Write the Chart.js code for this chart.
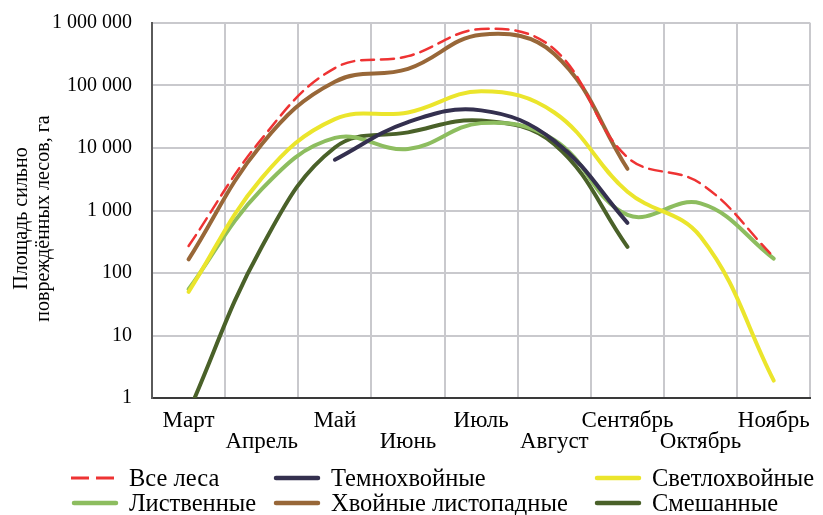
<!DOCTYPE html>
<html lang="ru">
<head>
<meta charset="utf-8">
<script src="https://cdn.jsdelivr.net/npm/chart.js@4.4.1/dist/chart.umd.min.js"></script>
<style>
  body { margin: 0; background: #fff; }
  #wrap { position: relative; width: 823px; height: 515px; }
  #legende { position: absolute; left: 0; top: 466px; width: 823px; height: 48px;
             font-family: 'Liberation Serif', 'Times New Roman', serif; font-size: 24.5px; color: #000; }
  .eintrag { position: absolute; height: 24px; display: flex; align-items: center; white-space: nowrap; }
  .eintrag canvas { margin-right: 10px; }
</style>
</head>
<body>
<div id="wrap">
  <canvas id="chart" width="823" height="515"></canvas>
  <div id="legende"></div>
</div>
<script>
// Monate (Beschriftung in zwei Reihen versetzt)
const monate = ['Март', 'Апрель', 'Май', 'Июнь', 'Июль', 'Август', 'Сентябрь', 'Октябрь', 'Ноябрь'];

// Fläche stark geschädigter Wälder, ha
const vseLesa       = [270, 14000, 190000, 295000, 800000, 380000, 7100, 2700, 180];
const temnohvojnye  = [null, null, 6500, 26000, 40000, 13000, 635, null, null];
const svetlohvojnye = [50, 3300, 29000, 37000, 81000, 37000, 2000, 380, 1.9];
const listvennye    = [55, 2200, 14500, 9600, 25000, 13500, 850, 1300, 170];
const hvojnyeListop = [165, 11500, 115000, 185000, 650000, 320000, 4650, null, null];
const smeshannye    = [0.6, 260, 10200, 17800, 27500, 11500, 262, null, null];

const yTicks = [1, 10, 100, 1000, 10000, 100000, 1000000];
const yTickLabels = ['1', '10', '100', '1 000', '10 000', '100 000', '1 000 000'];
const yTitel = ['Площадь сильно', 'повреждённых лесов, га'];

const serien = [
    { name: 'Все леса', daten: vseLesa, farbe: '#ee3333', dash: [13, 7], breite: 2.5 },
    { name: 'Темнохвойные', daten: temnohvojnye, farbe: '#34304f', dash: [], breite: 4 },
    { name: 'Светлохвойные', daten: svetlohvojnye, farbe: '#ebe52c', dash: [], breite: 4 },
    { name: 'Лиственные', daten: listvennye, farbe: '#8dbd5f', dash: [], breite: 4 },
    { name: 'Хвойные листопадные', daten: hvojnyeListop, farbe: '#986738', dash: [], breite: 4 },
    { name: 'Смешанные', daten: smeshannye, farbe: '#4a6129', dash: [], breite: 4 }
];

const schrift = "'Liberation Serif', 'Times New Roman', serif";

// versetzte Beschriftung: ungerade oben, gerade unten
const xLabels = monate.map((m, i) => i % 2 === 0 ? [m, ''] : ['', m]);

const datasets = serien.map(s => ({
    label: s.name,
    data: s.daten,
    borderColor: s.farbe,
    backgroundColor: s.farbe,
    borderWidth: s.breite,
    borderDash: s.dash,
    borderCapStyle: 'round',
    borderJoinStyle: 'round',
    pointRadius: 0,
    pointHoverRadius: 0,
    tension: 0.4,
    fill: false
}));

// Achsentitel links, zwei gedrehte Zeilen
const achsenTitel = {
    id: 'achsenTitel',
    afterDraw(chart) {
        const ctx = chart.ctx;
        const mitte = (chart.chartArea.top + chart.chartArea.bottom) / 2 + 8;
        ctx.save();
        ctx.fillStyle = '#000';
        ctx.font = '20px ' + schrift;
        ctx.textAlign = 'center';
        ctx.textBaseline = 'middle';
        yTitel.forEach((zeile, i) => {
            ctx.save();
            ctx.translate(22 + i * 22, mitte);
            ctx.rotate(-Math.PI / 2);
            ctx.fillText(zeile, 0, 0);
            ctx.restore();
        });
        ctx.restore();
    }
};

new Chart(document.getElementById('chart'), {
    type: 'line',
    data: { labels: xLabels, datasets: datasets },
    plugins: [achsenTitel],
    options: {
        responsive: false,
        animation: false,
        events: [],
        layout: { padding: { top: 10, right: 5, bottom: 61, left: 0 } },
        plugins: {
            legend: { display: false },
            tooltip: { enabled: false }
        },
        scales: {
            x: {
                offset: true,
                grid: { offset: true, color: '#c9c9cd', lineWidth: 2, drawTicks: false },
                border: { color: '#3a3a3a', width: 2 },
                ticks: {
                    autoSkip: false,
                    maxRotation: 0,
                    padding: 13,
                    color: '#000',
                    font: { family: schrift, size: 23, lineHeight: 0.9 }
                },
                afterFit: scale => { scale.height = 56; }
            },
            y: {
                type: 'logarithmic',
                min: 1,
                max: 1000000,
                grid: { color: '#c9c9cd', lineWidth: 2, drawTicks: true, tickLength: 9, tickColor: 'rgba(0,0,0,0)' },
                border: { color: '#5a5a5a', width: 2 },
                afterBuildTicks: scale => {
                    scale.ticks = yTicks.map(v => ({ value: v }));
                },
                ticks: {
                    padding: 11,
                    color: '#000',
                    font: { family: schrift, size: 20 },
                    callback: (value, index) => yTickLabels[index]
                },
                afterFit: scale => { scale.width = 152; }
            }
        }
    }
});

// Legende wie im Original: drei Spalten, zwei Zeilen
const spaltenX = [71, 273, 594];
const legende = document.getElementById('legende');
serien.forEach((s, i) => {
    let eintrag = document.createElement('div');
    eintrag.className = 'eintrag';
    eintrag.style.left = spaltenX[i % 3] + 'px';
    eintrag.style.top = (Math.floor(i / 3) * 25) + 'px';

    let muster = document.createElement('canvas');
    muster.width = 48;
    muster.height = 10;
    let ctx = muster.getContext('2d');
    ctx.strokeStyle = s.farbe;
    ctx.lineWidth = s.dash.length ? 3 : 4.5;
    ctx.lineCap = s.dash.length ? 'butt' : 'round';
    ctx.setLineDash(s.dash.length ? [18, 7] : []);
    ctx.beginPath();
    ctx.moveTo(s.dash.length ? 0 : 3, 5);
    ctx.lineTo(s.dash.length ? 44 : 45, 5);
    ctx.stroke();
    eintrag.appendChild(muster);

    let text = document.createElement('span');
    text.textContent = s.name;
    eintrag.appendChild(text);
    legende.appendChild(eintrag);
});
</script>
</body>
</html>
